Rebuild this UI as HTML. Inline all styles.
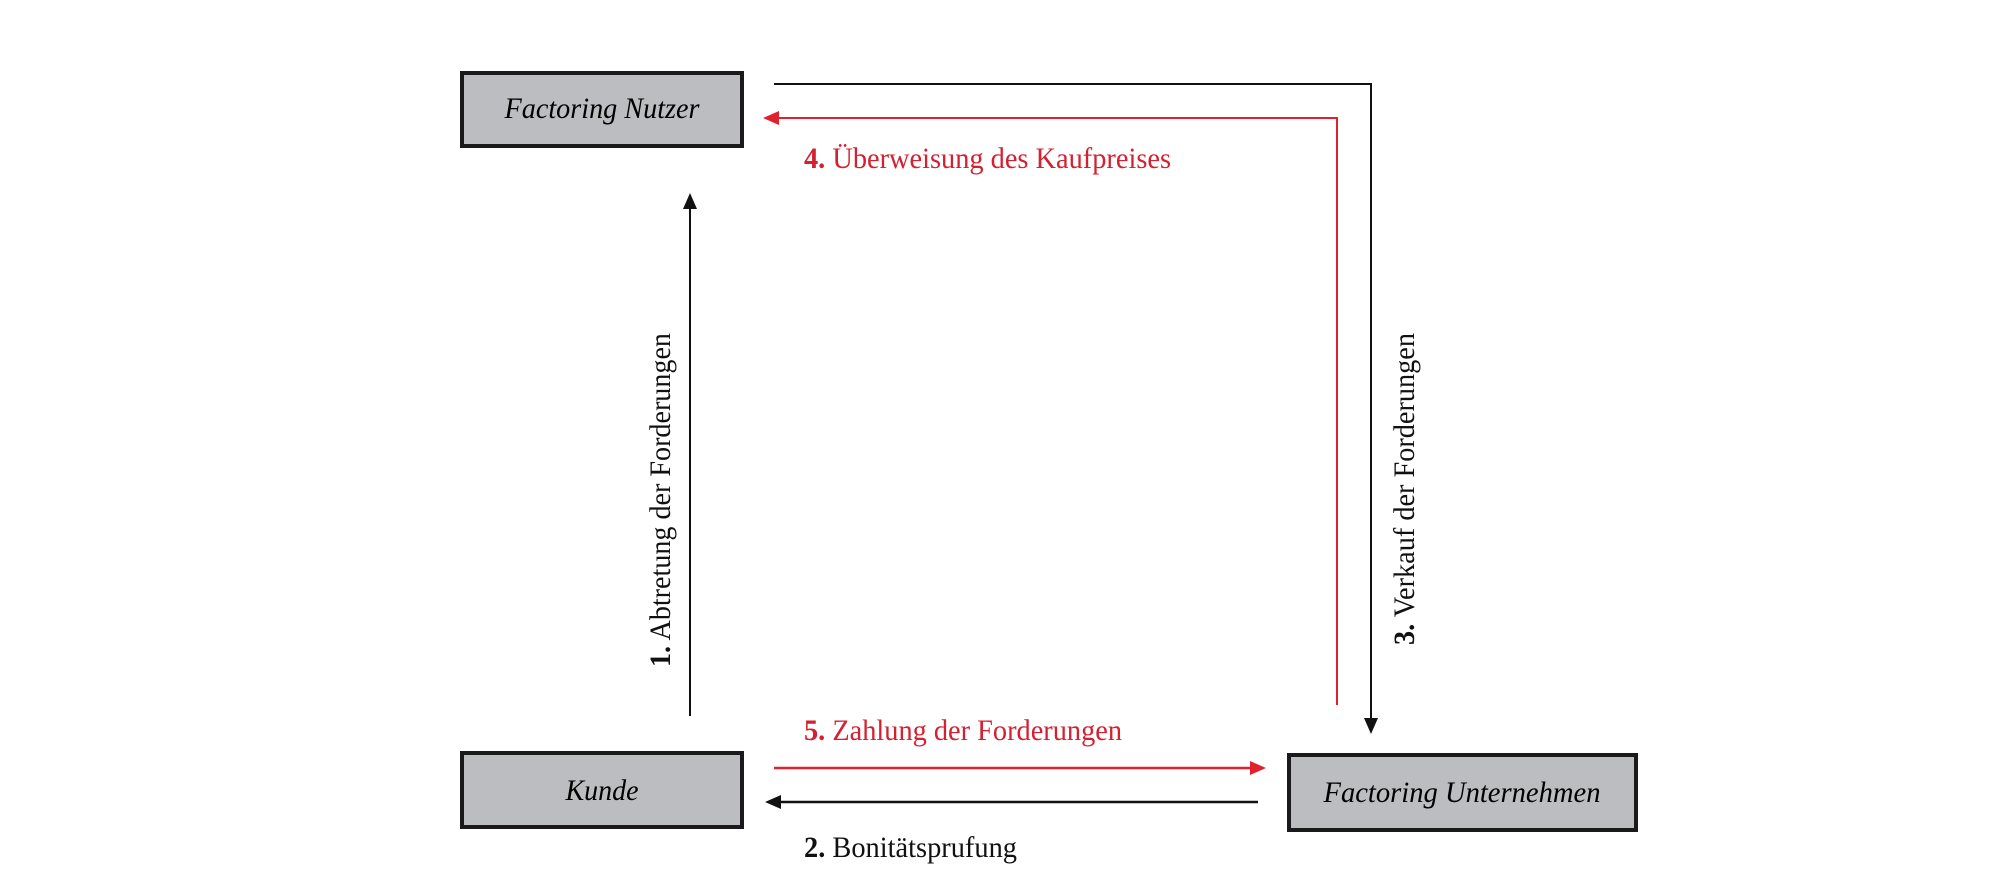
<!DOCTYPE html>
<html><head><meta charset="utf-8"><style>
html,body{margin:0;padding:0;background:#fff;}
svg{display:block;}
text{font-family:"Liberation Serif",serif;font-size:30px;}
</style></head><body>
<svg width="2000" height="881" viewBox="0 0 2000 881" xmlns="http://www.w3.org/2000/svg">
<rect x="462" y="73" width="280" height="73" fill="#bcbdc0" stroke="#1a1a1a" stroke-width="4"/>
<rect x="462" y="753" width="280" height="74" fill="#bcbdc0" stroke="#1a1a1a" stroke-width="4"/>
<rect x="1289" y="755" width="347" height="75" fill="#bcbdc0" stroke="#1a1a1a" stroke-width="4"/>
<text x="602" y="118" text-anchor="middle" font-style="italic" textLength="195" lengthAdjust="spacingAndGlyphs">Factoring Nutzer</text>
<text x="602" y="800" text-anchor="middle" font-style="italic" textLength="73" lengthAdjust="spacingAndGlyphs">Kunde</text>
<text x="1462" y="802" text-anchor="middle" font-style="italic" textLength="277" lengthAdjust="spacingAndGlyphs">Factoring Unternehmen</text>
<!-- black top line to Unternehmen -->
<polyline points="774,84 1371,84 1371,720" fill="none" stroke="#111" stroke-width="2"/>
<polygon points="1364,718 1378,718 1371,734" fill="#111"/>
<!-- red line -->
<polyline points="1337,705 1337,118 778,118" fill="none" stroke="#e0202a" stroke-width="2"/>
<polygon points="763,118 779,111 779,125" fill="#e0202a"/>
<!-- vertical arrow 1 -->
<line x1="690" y1="716" x2="690" y2="205" stroke="#111" stroke-width="2"/>
<polygon points="690,193 683,209 697,209" fill="#111"/>
<!-- red arrow 5 -->
<line x1="774" y1="768" x2="1252" y2="768" stroke="#e0202a" stroke-width="2.5"/>
<polygon points="1266,768 1250,761 1250,775" fill="#e0202a"/>
<!-- black arrow 2 -->
<line x1="1258" y1="802" x2="780" y2="802" stroke="#111" stroke-width="2.5"/>
<polygon points="765,802 781,795 781,809" fill="#111"/>
<text x="804" y="168" fill="#d42030" textLength="367" lengthAdjust="spacingAndGlyphs"><tspan font-weight="bold">4.</tspan> Überweisung des Kaufpreises</text>
<text x="804" y="740" fill="#d42030" textLength="318" lengthAdjust="spacingAndGlyphs"><tspan font-weight="bold">5.</tspan> Zahlung der Forderungen</text>
<text x="804" y="857" fill="#111" textLength="213" lengthAdjust="spacingAndGlyphs"><tspan font-weight="bold">2.</tspan> Bonitätsprufung</text>
<text transform="translate(670,667) rotate(-90)" fill="#111" textLength="334" lengthAdjust="spacingAndGlyphs"><tspan font-weight="bold">1.</tspan> Abtretung der Forderungen</text>
<text transform="translate(1414,645) rotate(-90)" fill="#111" textLength="312" lengthAdjust="spacingAndGlyphs"><tspan font-weight="bold">3.</tspan> Verkauf der Forderungen</text>
</svg>
</body></html>
